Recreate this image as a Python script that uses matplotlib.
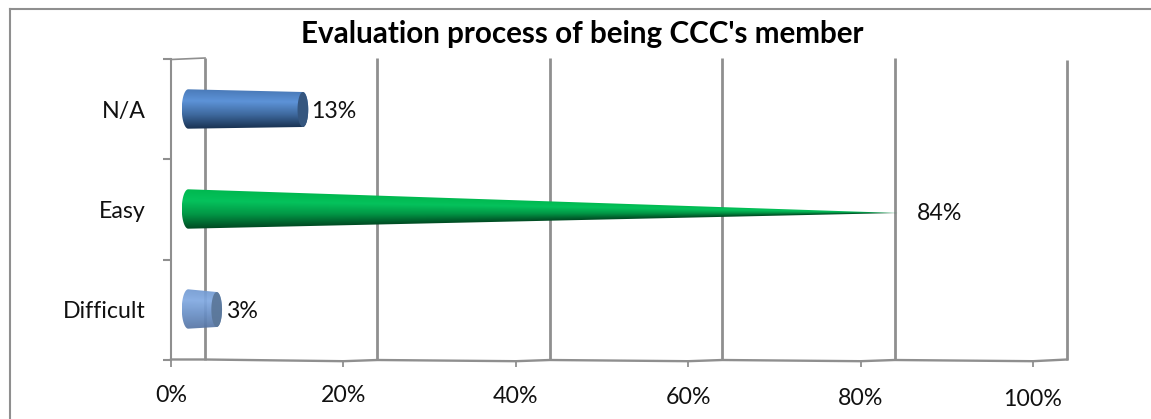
import numpy as np
import matplotlib
matplotlib.use("Agg")
import matplotlib.pyplot as plt
from matplotlib.colors import to_rgb
from matplotlib.patches import Polygon

categories = ["Difficult", "Easy", "N/A"]
values = [3, 84, 13]
value_labels = ["3%", "84%", "13%"]
x_ticks = [0, 20, 40, 60, 80, 100]
x_tick_labels = ["0%", "20%", "40%", "60%", "80%", "100%"]
title = "Evaluation process of being CCC's member"

W, H = 1151, 419
GRAY = "#8f8f8f"
INK = "#111111"
FONT = "Lato"
LABEL_SIZE = 16.7
DEPTH = 3.95        # back wall offset, in axis units
BAR_DEPTH = 2.3     # bars stand midway between the front axis and the back wall
TIP_DEPTH = 0.35

BLUE = ["#4a7ab8", "#5d93d8", "#3f6a9f", "#1b3556"]
LIGHT = ["#7299d0", "#82aae2", "#6a90c6", "#5877a6"]
GREEN = ["#00b84f", "#05c25c", "#029645", "#004d24"]

fig = plt.figure(figsize=(W / 100, H / 100), dpi=100, facecolor="white")
ax = fig.add_axes([171 / W, 1 - 359.5 / H, (1033 - 171) / W, 300 / H])
ax.set_xlim(0, 100)
ax.set_ylim(0, 3)
ax.patch.set_visible(False)
for side in ("top", "right", "bottom"):
    ax.spines[side].set_visible(False)
ax.spines["left"].set_color(GRAY)
ax.spines["left"].set_linewidth(1.5)

# Back wall: one vertical line per x tick, shifted by the chart depth
for t in x_ticks:
    top = 3.015 if t < 100 else 2.995
    ax.plot([t + DEPTH] * 2, [0.0, top], color=GRAY, lw=2.0, clip_on=False,
            solid_capstyle="butt", zorder=1)
ax.plot([0, DEPTH], [3.0, 3.015], color=GRAY, lw=1.2, clip_on=False, zorder=1)

# Floor edge, sagging slightly between the back wall and the front ticks
floor_x, floor_y = [0, DEPTH], [0.0, 0.0]
for t in x_ticks[1:]:
    floor_x += [t, t + DEPTH]
    floor_y += [-0.017, -0.005 if t < 100 else 0.0]
ax.plot(floor_x, floor_y, color=GRAY, lw=1.7, clip_on=False, zorder=1)


def draw_bar(center, value, colors, cap=None, alpha=1.0, cone=False):
    x0 = 2.0
    x1 = value + (TIP_DEPTH if cone else BAR_DEPTH)
    h0 = 0.197
    h1 = 0.0 if cone else 0.175
    y1 = center - (0.035 if cone else 0.0)
    rx = 0.75
    y0 = center + 0.005

    # Outline: rounded base, straight sides, bulged far end
    a = np.linspace(np.pi / 2, 3 * np.pi / 2, 40)
    base = np.c_[x0 + rx * np.cos(a), y0 + h0 * np.sin(a)]
    if cone:
        end = np.array([[x1, y1]])
    else:
        b = np.linspace(-np.pi / 2, np.pi / 2, 40)
        end = np.c_[x1 + 0.62 * np.cos(b), y1 + h1 * np.sin(b)]
    poly = Polygon(np.vstack([base, end]), closed=True, fc="none", ec="none",
                   clip_on=False)
    ax.add_patch(poly)

    # Shading follows the taper, so it is built column by column
    left, right = x0 - rx, x1 + 0.7
    bottom, top = center - 0.25, center + 0.25
    xs = np.linspace(left, right, 1200)
    ys = np.linspace(top, bottom, 200)
    frac = np.clip((xs - x0) / (x1 - x0), 0, 1)
    yc = y0 + (y1 - y0) * frac
    hh = np.maximum(h0 + (h1 - h0) * frac, 0.004)
    s = np.clip((ys[:, None] - yc[None, :]) / hh[None, :], -1, 1)
    rgb = np.array([to_rgb(c) for c in colors[::-1]])
    s_axis = [-1.0, -0.3, 0.4, 1.0]
    img = np.stack([np.interp(s, s_axis, rgb[:, i]) for i in range(3)], axis=2)
    im = ax.imshow(img, extent=[left, right, bottom, top], aspect="auto",
                   interpolation="bilinear", zorder=3, alpha=alpha)
    im.set_clip_path(poly)

    if cap is not None:
        t = np.linspace(0, 2 * np.pi, 80)
        ax.fill(x1 + 0.62 * np.cos(t), y1 + h1 * np.sin(t), color=cap,
                alpha=alpha, lw=0, zorder=4, clip_on=False)


styles = [
    dict(colors=LIGHT, cap="#5b7799", alpha=0.93),
    dict(colors=GREEN, cone=True),
    dict(colors=BLUE, cap="#35567f"),
]
centers = [0.5 + i for i in range(len(categories))]
for c, v, st in zip(centers, values, styles):
    draw_bar(c, v, **st)
ax.set_xlim(0, 100)
ax.set_ylim(0, 3)

# Value labels sit past each bar's end
label_x = [6.4, 86.55, 16.25]
label_y = [-0.022, -0.04, -0.022]
for c, txt, lx, dy in zip(centers, value_labels, label_x, label_y):
    ax.text(lx, c + dy, txt, ha="left", va="center", fontsize=LABEL_SIZE,
            family=FONT, color=INK, clip_on=False, zorder=5)

# Axes, ticks and tick labels
ax.set_yticks([0, 1, 2, 3])
ax.set_yticklabels([])
ax.tick_params(axis="y", length=5.8, width=1.5, color=GRAY)
for c, name in zip(centers, categories):
    ax.annotate(name, (0, c), xytext=(-25, -2), textcoords="offset pixels",
                ha="right", va="center", fontsize=LABEL_SIZE, family=FONT,
                color=INK, annotation_clip=False)
ax.set_xticks(x_ticks)
ax.set_xticklabels(x_tick_labels, fontsize=LABEL_SIZE, family=FONT, color=INK)
ax.tick_params(axis="x", length=5.0, width=1.3, color=GRAY)
for i, tick in enumerate(ax.xaxis.get_major_ticks()):
    tick.set_pad(13 + 0.7 * i)

fig.text(582 / W, 1 - 34.5 / H, title, ha="center", va="center", fontsize=21.3,
         fontweight="bold", family=FONT, color="black")

# Chart frame: only its top and left edges fall inside the canvas
fig.add_artist(plt.Line2D([9.5 / W, 9.5 / W], [0, 1 - 9 / H], color=GRAY, lw=1.5))
fig.add_artist(plt.Line2D([9.5 / W, 1], [1 - 9 / H, 1 - 9 / H], color=GRAY, lw=1.5))

# Caption above the chart, cut off by the canvas edge
for px, ch in [(40, "g"), (312, "y"), (390, "g")]:
    fig.text(px / W, 1 + 8.5 / H, ch, ha="center", va="baseline", fontsize=15,
             family="Liberation Serif", color="black")

fig.savefig("out.png", dpi=100)
